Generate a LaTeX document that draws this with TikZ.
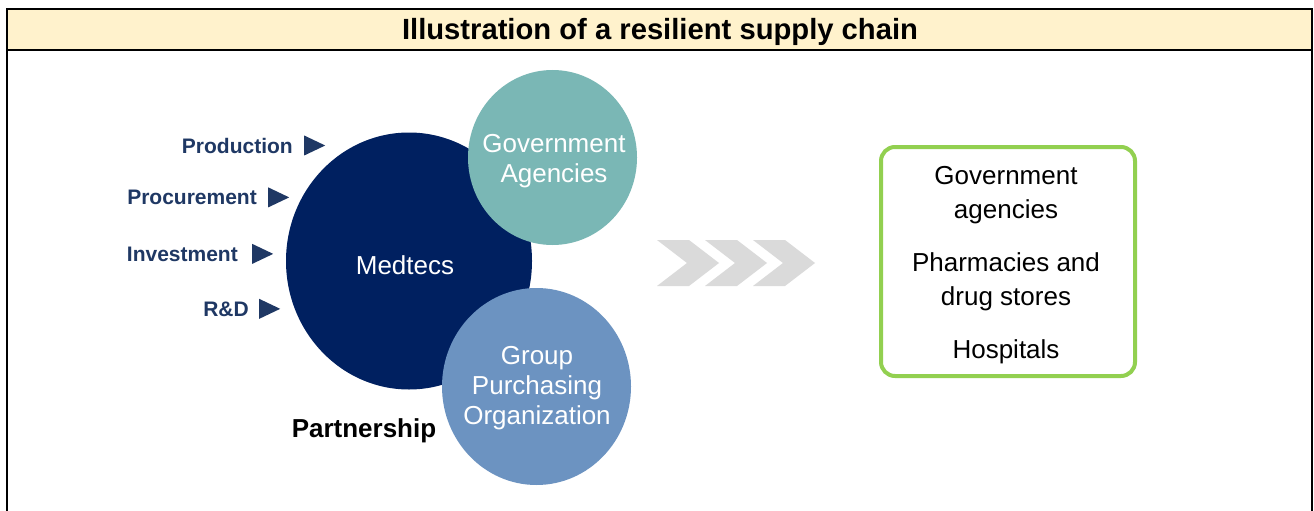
\documentclass[tikz,border=0pt]{standalone}
\usepackage{fontspec}
\setmainfont{Liberation Sans}
\usetikzlibrary{positioning,shapes.geometric}
\definecolor{bandfill}{HTML}{FFF2CC}
\definecolor{labnavy}{HTML}{1F3864}
\definecolor{medtecsnavy}{HTML}{002060}
\definecolor{govteal}{HTML}{7AB7B5}
\definecolor{gpoblue}{HTML}{6C93C1}
\definecolor{chevgray}{HTML}{DADADA}
\definecolor{boxgreen}{HTML}{92D050}

\begin{document}
\begin{tikzpicture}[x=1pt,y=-1pt]
\tikzstyle{every node}=[inner sep=0pt]
\tikzstyle{lbl}=[anchor=base east, text=labnavy, font=\fontsize{21}{25}\selectfont\bfseries]
\tikzstyle{tri}=[isosceles triangle, isosceles triangle stretches, minimum width=20pt, minimum height=21pt, fill=labnavy]
\tikzstyle{disc}=[ellipse]
\tikzstyle{disctext}=[text=white, align=center, font=\fontsize{26}{30}\selectfont]
\useasboundingbox (0,0) rectangle (1314,511);
\fill[white] (0,0) rectangle (1314,511);
% frame and title band
\draw[line width=2pt] (7,511) -- (7,9) -- (1312,9) -- (1312,511);
\draw[line width=2pt, fill=bandfill] (7,9) rectangle (1312,50);
\draw (660,32) node (title) [font=\fontsize{29.2}{33}\selectfont\bfseries] {Illustration of a resilient supply chain};
% the three circles
\draw (409,261) node (medtecs) [disc, fill=medtecsnavy, minimum width=246pt, minimum height=257pt] {};
\draw (552.5,157.5) node (gov) [disc, fill=govteal, minimum width=169pt, minimum height=175pt] {};
\draw (536.5,386.5) node (gpo) [disc, fill=gpoblue, minimum width=189pt, minimum height=197pt] {};
\node (medtecstext) at (405,265) [disctext] {Medtecs};
\node (govtext) at (554,161.5) [disctext] {Government\\Agencies};
\node (gpotext) at (537,388.5) [disctext] {Group\\Purchasing\\Organization};
\draw (364,437) node (partner) [anchor=base, font=\fontsize{26}{30}\selectfont\bfseries] {Partnership};
% inputs on the left
\draw (293,153) node (prod) [lbl] {Production};
\node (prodtri) [tri, right=11pt of prod] {};
\draw (257,204.5) node (proc) [lbl] {Procurement};
\node (proctri) [tri, right=11pt of proc] {};
\draw (238,261) node (invest) [lbl] {Investment};
\node (investtri) [tri, right=14pt of invest] {};
\draw (249,316) node (rnd) [lbl] {R\&D};
\node (rndtri) [tri, right=10pt of rnd] {};
% chevrons
\foreach \x in {657,705,753}
  \fill[chevgray] (\x,240) -- ++(32,0) -- ++(30,23) -- ++(-30,23) -- ++(-32,0) -- ++(30,-23) -- cycle;
% outlets box
\draw (1008,261.5) node (outlets) [draw=boxgreen, line width=4pt, rounded corners=14pt, minimum width=254pt, minimum height=229pt] {};
\node (outletstext) at (1006,265) [align=center, font=\fontsize{26}{34}\selectfont] {Government\\agencies\\[19pt]Pharmacies and\\drug stores\\[19pt]Hospitals};
\end{tikzpicture}
\end{document}
